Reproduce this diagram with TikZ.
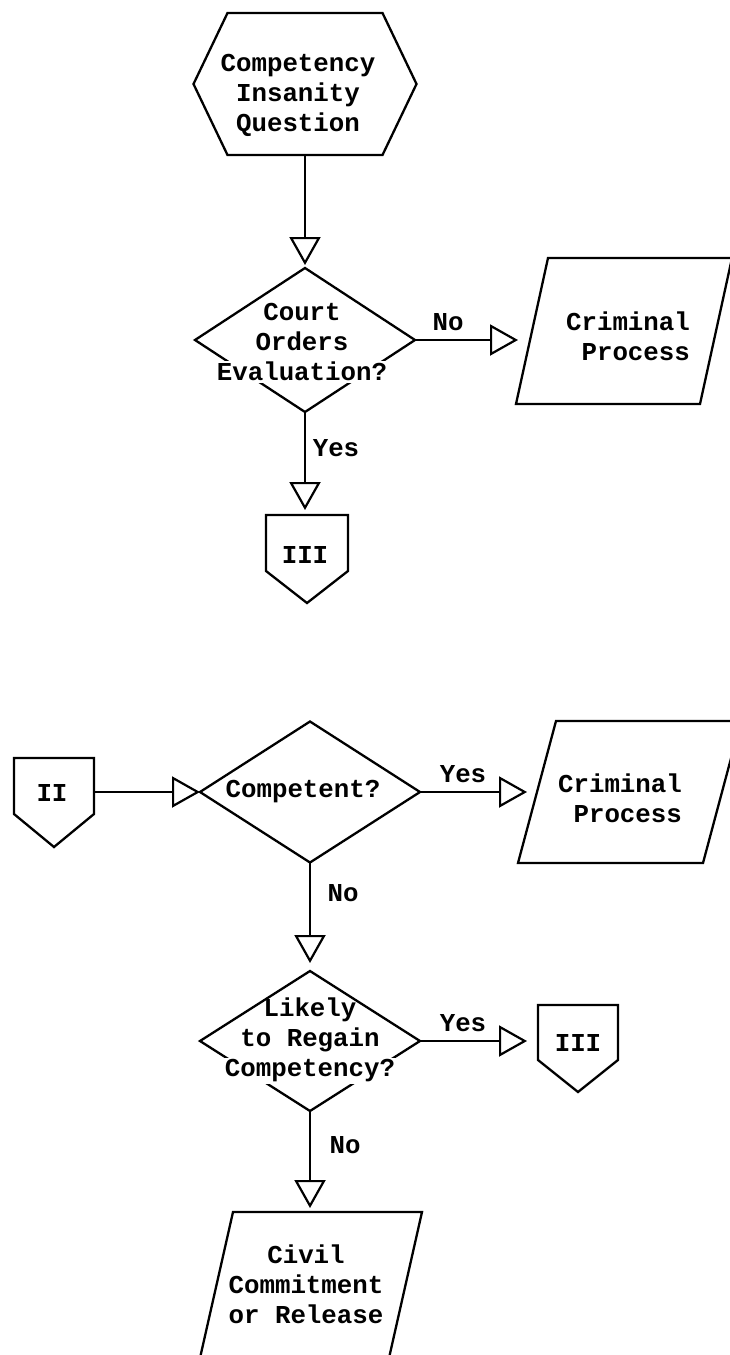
\documentclass[tikz,border=0pt]{standalone}
\usepackage{fontspec}
\setmonofont{Liberation Mono}
\usetikzlibrary{arrows.meta,shapes.geometric,calc}
\setlength{\fboxsep}{1.5pt}
\begin{document}
\begin{tikzpicture}[x=1pt,y=-1pt,
  shapeline/.style={line width=2.3pt, line join=miter},
  txt/.style={font=\ttfamily\bfseries\fontsize{25.8}{30}\selectfont, align=center, inner sep=0pt},
  txtr/.style={txt, align=right},
  lbl/.style={font=\ttfamily\bfseries\fontsize{25.8}{30}\selectfont, inner sep=0pt},
  conn/.style={line width=2.6pt, -{Triangle[open, length=28pt, width=31pt, line width=2.2pt]}},
  ghost/.style={rectangle, draw=none, inner sep=0pt, outer sep=0pt},
  dia/.style={diamond, draw, line width=2.3pt, inner sep=0pt, outer sep=0pt, minimum width=220pt}
]
\useasboundingbox (0,0) rectangle (730,1355);
\fill[white] (0,0) rectangle (730,1355);

% ---------- upper part ----------
\node[ghost, minimum width=223pt, minimum height=142pt] (hex) at (305,84) {};
\draw[shapeline] (hex.west) -- ([xshift=34pt]hex.north west) -- ([xshift=-34pt]hex.north east)
  -- (hex.east) -- ([xshift=-34pt]hex.south east) -- ([xshift=34pt]hex.south west) -- cycle;
\node[txt] (hext) at (298,95) {Competency\\Insanity\\Question};

\node[dia, minimum height=144pt] (d1) at (305,340) {};
\node[txt] (d1t) at (302,343) {Court\\Orders\\\colorbox{white}{Evaluation?}};

\node[ghost, minimum width=216pt, minimum height=146pt] (p1) at (624,331) {};
\draw[shapeline] (p1.south west) -- ([xshift=32pt]p1.north west) -- (p1.north east)
  -- ([xshift=-32pt]p1.south east) -- cycle;
\node[txtr] (p1t) at (628,336) {Criminal\\Process};

\node[ghost, minimum width=82pt, minimum height=88pt] (iiiA) at (307,559) {};
\draw[shapeline] (iiiA.north west) -- (iiiA.north east) -- ([yshift=32pt]iiiA.south east)
  -- (iiiA.south) -- ([yshift=32pt]iiiA.south west) -- cycle;
\node[lbl] (iiiAt) at (305,555) {III};

\draw[conn, shorten >=3pt] (hex.south) -- (d1.north);
\draw[conn] (d1.east) -- ($(d1.east -| p1.west)+(2,0)$);
\draw[conn, shorten >=5pt] (d1.south) -- (d1.south |- iiiA.north);
\node[lbl] (lno1) at (448,322) {No};
\node[lbl] (lyes1) at (336,448) {Yes};

% ---------- lower part ----------
\node[ghost, minimum width=80pt, minimum height=89pt] (ii) at (54,802.5) {};
\draw[shapeline] (ii.north west) -- (ii.north east) -- ([yshift=33pt]ii.south east)
  -- (ii.south) -- ([yshift=33pt]ii.south west) -- cycle;
\node[lbl] (iit) at (52,793) {II};

\node[dia, minimum height=141pt] (c2) at (310,792) {};
\node[txt] (c2t) at (303,792) {Competent?};

\node[ghost, minimum width=223pt, minimum height=142pt] (p2) at (629.5,792) {};
\draw[shapeline] (p2.south west) -- ([xshift=38pt]p2.north west) -- (p2.north east)
  -- ([xshift=-38pt]p2.south east) -- cycle;
\node[txtr] (p2t) at (620,798) {Criminal\\Process};

\node[dia, minimum height=140pt] (d3) at (310,1041) {};
\node[txt] (d3t) at (310,1041) {Likely\\to Regain\\\colorbox{white}{Competency?}};

\node[ghost, minimum width=80pt, minimum height=87pt] (iiiB) at (578,1048.5) {};
\draw[shapeline] (iiiB.north west) -- (iiiB.north east) -- ([yshift=32pt]iiiB.south east)
  -- (iiiB.south) -- ([yshift=32pt]iiiB.south west) -- cycle;
\node[lbl] (iiiBt) at (578,1043) {III};

\node[ghost, minimum width=222pt, minimum height=146pt] (p3) at (311,1285) {};
\draw[shapeline] (p3.south west) -- ([xshift=33pt]p3.north west) -- (p3.north east)
  -- ([xshift=-33pt]p3.south east) -- cycle;
\node[txt] (p3t) at (306,1284) {Civil\\Commitment\\or Release};

\draw[conn] (ii.east |- c2.west) -- (c2.west);
\draw[conn] (c2.east) -- ($(c2.east -| p2.west)+(9,0)$);
\draw[conn, shorten >=8pt] (c2.south) -- (d3.north);
\draw[conn, shorten >=11pt] (d3.east) -- (d3.east -| iiiB.west);
\draw[conn, shorten >=4pt] (d3.south) -- (d3.south |- p3.north);
\node[lbl] (lyes2) at (463,774) {Yes};
\node[lbl] (lno2) at (343,893) {No};
\node[lbl] (lyes3) at (463,1023) {Yes};
\node[lbl] (lno3) at (345,1145) {No};
\end{tikzpicture}
\end{document}
